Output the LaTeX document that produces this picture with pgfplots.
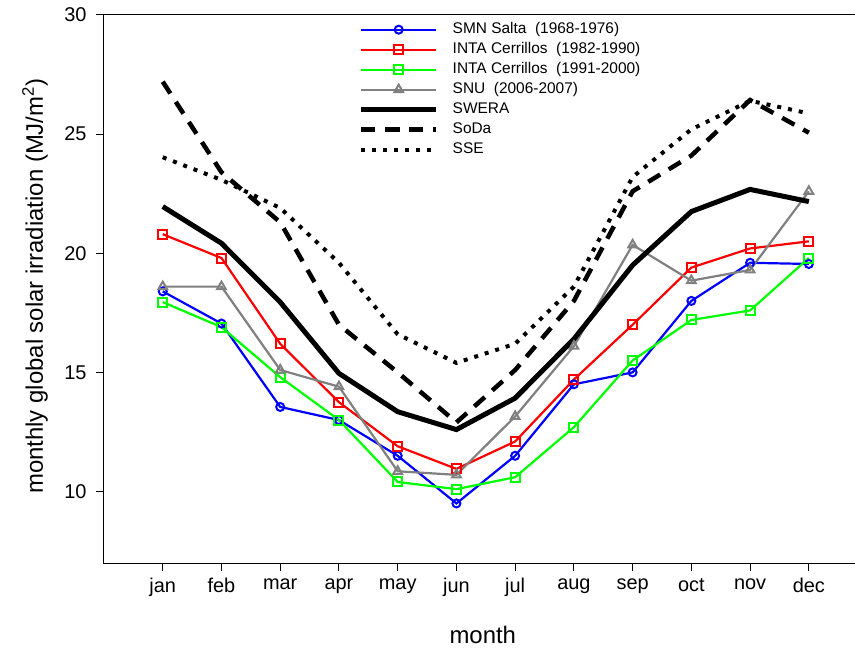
\documentclass[border=0pt]{standalone}
\usepackage{fontspec}
\setmainfont{Liberation Sans}
\usepackage{pgfplots}
\pgfplotsset{compat=1.18}
\begin{document}
\begin{tikzpicture}
\begin{axis}[
 scale only axis,
 width=753bp, height=548bp,
 xmin=0, xmax=12.82, ymin=7, ymax=30,
 xtick={1,2,3,4,5,6,7,8,9,10,11,12},
 xticklabels={jan,feb,mar,apr,may,jun,jul,aug,sep,oct,nov,dec},
 ytick={10,15,20,25,30},
 tick align=outside, tick pos=left,
 major tick length=8bp,
 tick style={black, line width=1bp},
 axis line style={line width=1bp},
 /pgf/number format/assume math mode=true,
 ticklabel style={font=\fontsize{20}{24}\selectfont},
 yticklabel style={xshift=-6bp},
 xticklabel style={yshift=-4bp},
 xlabel={month},
 ylabel={monthly global solar irradiation (MJ/m\textsuperscript{2})},
 label style={font=\fontsize{24}{28}\selectfont},
 xlabel style={at={(axis description cs:0.503,-0.131)}, anchor=center},
 ylabel style={at={(axis description cs:-0.0916,0.505)}, anchor=center},
 legend style={draw=none, fill=none, at={(axis description cs:0.338,0.99)}, anchor=north west,
   font=\fontsize{15.5}{18}\selectfont, row sep=2bp, inner sep=0pt, column sep=12bp,
   nodes={inner sep=2bp, text height=11bp, text depth=3bp}},
 legend cell align=left,
 legend image code/.code={\draw[mark repeat=2,mark phase=2,#1] plot coordinates {(0bp,0bp) (37.5bp,0bp) (75bp,0bp)};},
]
\addplot[blue, line width=2.2bp, mark=o, mark size=4bp, mark options={line width=2bp, solid}] coordinates {
(1,18.4) (2,17.05) (3,13.55) (4,13.0) (5,11.5) (6,9.5) (7,11.5) (8,14.5) (9,15.0) (10,18.0) (11,19.6) (12,19.55)};
\addlegendentry{SMN Salta\ \ (1968-1976)}
\addplot[red, line width=2.2bp, mark=square, mark size=4.5bp, mark options={line width=2bp, solid}] coordinates {
(1,20.8) (2,19.8) (3,16.2) (4,13.75) (5,11.9) (6,10.95) (7,12.1) (8,14.7) (9,17.0) (10,19.4) (11,20.2) (12,20.5)};
\addlegendentry{INTA Cerrillos\ \ (1982-1990)}
\addplot[green, line width=2.2bp, mark=square, mark size=4.5bp, mark options={line width=2bp, solid}] coordinates {
(1,17.95) (2,16.9) (3,14.8) (4,13.0) (5,10.4) (6,10.1) (7,10.6) (8,12.7) (9,15.5) (10,17.2) (11,17.6) (12,19.8)};
\addlegendentry{INTA Cerrillos\ \ (1991-2000)}
\addplot[gray, line width=2.2bp, mark=triangle, mark size=5bp, mark options={line width=2bp, solid}] coordinates {
(1,18.6) (2,18.6) (3,15.1) (4,14.4) (5,10.85) (6,10.7) (7,13.15) (8,16.1) (9,20.35) (10,18.85) (11,19.3) (12,22.6)};
\addlegendentry{SNU\ \ (2006-2007)}
\addplot[black, line width=5bp] coordinates {
(1,21.96) (2,20.42) (3,17.95) (4,14.96) (5,13.35) (6,12.6) (7,13.92) (8,16.4) (9,19.5) (10,21.75) (11,22.68) (12,22.17)};
\addlegendentry{SWERA}
\addplot[black, line width=4.5bp, dash pattern=on 14bp off 10bp] coordinates {
(1,27.2) (2,23.4) (3,21.3) (4,17.0) (5,15.0) (6,12.9) (7,15.1) (8,18.0) (9,22.6) (10,24.1) (11,26.43) (12,25.06)};
\addlegendentry{SoDa}
\addplot[black, line width=4bp, dash pattern=on 4bp off 7bp] coordinates {
(1,24.03) (2,23.08) (3,21.9) (4,19.6) (5,16.6) (6,15.4) (7,16.2) (8,18.6) (9,23.2) (10,25.2) (11,26.4) (12,25.87)};
\addlegendentry{SSE}
\coordinate (NW) at (rel axis cs:0,1);
\coordinate (SE) at (rel axis cs:1,0);
\end{axis}
\pgfresetboundingbox
\path[use as bounding box] ([xshift=-104bp,yshift=15bp]NW) rectangle ([xshift=-2bp,yshift=-88bp]SE);
\end{tikzpicture}
\end{document}
